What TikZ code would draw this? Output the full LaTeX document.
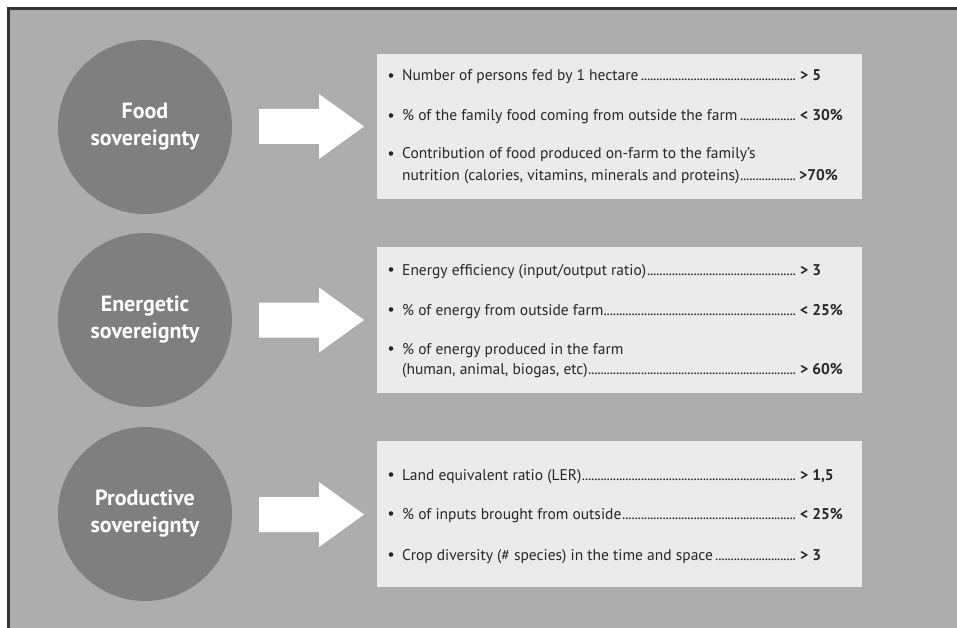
\documentclass[tikz,border=0pt]{standalone}
\usepackage{fontspec}
\setmainfont{PT Sans}
\definecolor{bggray}{HTML}{ADADAD}
\definecolor{circgray}{HTML}{7F7F7F}
\definecolor{boxgray}{HTML}{EBEBEB}
\definecolor{txt}{HTML}{262626}
\definecolor{framec}{HTML}{333333}
\newcommand\leaderdots{\leaders\hbox to 3.1pt{\hss.\hss}\hfill}
\begin{document}
\begin{tikzpicture}[x=1pt,y=-1pt,
  circ/.style={circle, fill=circgray, minimum size=174pt, inner sep=0pt, text=white,
    font=\bfseries\fontsize{22}{27}\selectfont, align=center},
  infobox/.style={fill=boxgray, anchor=north west, minimum width=485pt, inner sep=0pt},
  item/.style={anchor=base west, inner sep=0pt, text=txt, font=\fontsize{15.5}{18}\selectfont},
  val/.style={item, font=\bfseries\fontsize{15.5}{18}\selectfont},
  bul/.style={circle, fill=txt, inner sep=0pt, minimum size=4.6pt},
  bigarrow/.style={fill=white}]
\useasboundingbox (0,0) rectangle (957,628);
\fill[white] (0,0) rectangle (957,628);
\fill[bggray] (8.5,8.5) rectangle (957,628);
\draw[framec, line width=2.6pt] (8.5,628) -- (8.5,8.5) -- (957,8.5);

% circles
\node[circ] (c1) at (145,127) {Food\\sovereignty};
\node[circ] (c2) at (145,320) {Energetic\\sovereignty};
\node[circ] (c3) at (145,514) {Productive\\sovereignty};

% arrows
\foreach \yc/\nm in {126.5/a1, 320/a2, 514.5/a3}{
  \coordinate (\nm) at (259,\yc);
  \fill[bigarrow] (\nm) ++(0,-17.5) -- ++(60,0) -- ++(0,-15) -- ++(45,32.5)
     -- ++(-45,32.5) -- ++(0,-15) -- ++(-60,0) -- cycle;
}

% boxes
\node[infobox, minimum height=145pt] (b1) at (377,54) {};
\node[infobox, minimum height=146pt] (b2) at (377,247) {};
\node[infobox, minimum height=146pt] (b3) at (377,441) {};

% box 1
\node[bul] (u11) at (391,75.5) {};
\node[item] (t11) at (402,81) {\makebox[394pt][l]{Number of persons fed by 1 hectare\leaderdots}};
\node[val] (v11) at (800,81) {> 5};
\node[bul] (u12) at (391,115.5) {};
\node[item] (t12) at (402,121) {\makebox[394pt][l]{\% of the family food coming from outside the farm\leaderdots}};
\node[val] (v12) at (800,121) {< 30\%};
\node[bul] (u13) at (391,153.5) {};
\node[item] (t13) at (402,159) {Contribution of food produced on-farm to the family’s};
\node[item] (t14) at (402,181) {\makebox[394pt][l]{nutrition (calories, vitamins, minerals and proteins)\leaderdots}};
\node[val] (v13) at (799,181) {>70\%};

% box 2
\node[bul] (u21) at (391,269.5) {};
\node[item] (t21) at (402,275) {\makebox[394pt][l]{Energy efficiency (input/output ratio)\leaderdots}};
\node[val] (v21) at (800,275) {> 3};
\node[bul] (u22) at (391,309.5) {};
\node[item] (t22) at (402,315) {\makebox[394pt][l]{\% of energy from outside farm\leaderdots}};
\node[val] (v22) at (800,315) {< 25\%};
\node[bul] (u23) at (391,348.5) {};
\node[item] (t23) at (402,354) {\% of energy produced in the farm};
\node[item] (t24) at (402,374) {\makebox[394pt][l]{(human, animal, biogas, etc)\leaderdots}};
\node[val] (v23) at (800,374) {> 60\%};

% box 3
\node[bul] (u31) at (391,474.5) {};
\node[item] (t31) at (402,480) {\makebox[394pt][l]{Land equivalent ratio (LER)\leaderdots}};
\node[val] (v31) at (800,480) {> 1,5};
\node[bul] (u32) at (391,513.5) {};
\node[item] (t32) at (402,519) {\makebox[394pt][l]{\% of inputs brought from outside\leaderdots}};
\node[val] (v32) at (800,519) {< 25\%};
\node[bul] (u33) at (391,554.5) {};
\node[item] (t33) at (402,560) {\makebox[394pt][l]{Crop diversity (\# species) in the time and space\leaderdots}};
\node[val] (v33) at (800,560) {> 3};
\end{tikzpicture}
\end{document}
